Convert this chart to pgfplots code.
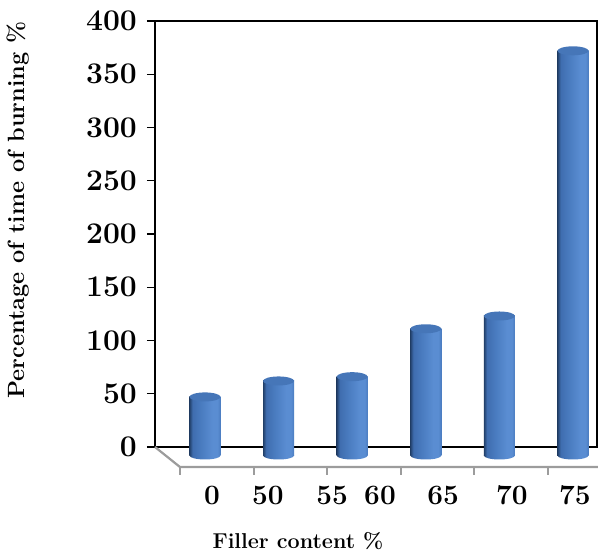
\documentclass[border=0pt]{standalone}
\usepackage{pgfplots}
\pgfplotsset{compat=1.18}
\definecolor{cdark}{HTML}{22406A}
\definecolor{cmid}{HTML}{3F6DAF}
\definecolor{cbody}{HTML}{4A7CC0}
\definecolor{clight}{HTML}{5A8DD2}
\definecolor{cright}{HTML}{4B7CC0}
\definecolor{ctop}{HTML}{4676B8}
\definecolor{floorgray}{HTML}{9C9C9C}
\pgfdeclarehorizontalshading{cyl}{100bp}{color(0bp)=(cdark); color(25bp)=(cdark); color(30bp)=(cmid); color(44bp)=(cbody); color(62bp)=(clight); color(70bp)=(clight); color(75bp)=(cright); color(100bp)=(cright)}
\pgfdeclareplotmark{cyltop}{\pgfpathellipse{\pgfpointorigin}{\pgfqpoint{15.5pt}{0pt}}{\pgfqpoint{0pt}{4.5pt}}\pgfsetfillcolor{ctop}\pgfusepathqfill}
\pgfdeclareplotmark{cylbot}{\pgfpathellipse{\pgfpointorigin}{\pgfqpoint{15.5pt}{0pt}}{\pgfqpoint{0pt}{4pt}}\pgfshadepath{cyl}{0}\pgfusepath{}}
\pgfplotsset{cylbar/.style={ybar, bar shift=0pt, bar width=31pt, draw=none, shade, shading=cyl}}
\begin{document}
\begin{tikzpicture}
\useasboundingbox (0,0) rectangle (598pt,552pt);
\begin{axis}[
  at={(155pt,105pt)}, anchor=south west,
  scale only axis, width=442pt, height=426pt,
  xmin=-0.679, xmax=5.326, ymin=0, ymax=400,
  clip=false,
  axis line style={black, line width=1.6pt},
  ytick={0,50,...,400}, ytick pos=left,
  tick align=outside, major tick length=8pt,
  ytick style={black, line width=1.2pt},
  xtick={0.095,0.856,1.726,2.378,3.234,4.171,5.027},
  xticklabels={0,50,55,60,65,70,75},
  xtick style={draw=none},
  /pgf/number format/assume math mode=true,
  yticklabel style={font=\bfseries\fontsize{30}{30}\selectfont, anchor=east, inner sep=0pt, xshift=-10pt},
  xticklabel style={font=\bfseries\fontsize{28}{28}\selectfont, anchor=base, inner sep=0pt, yshift=-49pt},
  xlabel={Filler content \%},
  ylabel={Percentage of time of burning \%},
  xlabel style={font=\bfseries\fontsize{21.5}{21.5}\selectfont, at={(axis description cs:0.3235,-0.2207)}, anchor=center},
  ylabel style={font=\bfseries\fontsize{23.5}{23.5}\selectfont, at={(axis description cs:-0.31,0.556)}, anchor=center},
]
\draw[floorgray, line width=2.2pt] (axis cs:-0.679,0) -- (axis cs:-0.34,-18.8) -- (axis cs:5.34,-18.8);
\draw[floorgray, line width=2pt] (axis cs:-0.34,-18.8) -- (axis cs:-0.34,-26.3);
\draw[floorgray, line width=2pt] (axis cs:0.66,-18.8) -- (axis cs:0.66,-26.3);
\draw[floorgray, line width=2pt] (axis cs:1.66,-18.8) -- (axis cs:1.66,-26.3);
\draw[floorgray, line width=2pt] (axis cs:2.66,-18.8) -- (axis cs:2.66,-26.3);
\draw[floorgray, line width=2pt] (axis cs:3.66,-18.8) -- (axis cs:3.66,-26.3);
\draw[floorgray, line width=2pt] (axis cs:4.66,-18.8) -- (axis cs:4.66,-26.3);
\end{axis}
\begin{axis}[
  at={(155pt,96.5pt)}, anchor=south west,
  scale only axis, width=442pt, height=426pt,
  xmin=-0.679, xmax=5.326, ymin=0, ymax=400,
  clip=false, hide axis,
]
\addplot[only marks, mark=cylbot] coordinates {(0,0) (1,0) (2,0) (3,0) (4,0) (5,0)};
\addplot[cylbar] coordinates {(0,55)};
\addplot[cylbar] coordinates {(1,70)};
\addplot[cylbar] coordinates {(2,74)};
\addplot[cylbar] coordinates {(3,119)};
\addplot[cylbar] coordinates {(4,131)};
\addplot[cylbar] coordinates {(5,380)};
\addplot[only marks, mark=cyltop] coordinates {(0,55) (1,70) (2,74) (3,119) (4,131) (5,380)};
\end{axis}
\end{tikzpicture}
\end{document}
